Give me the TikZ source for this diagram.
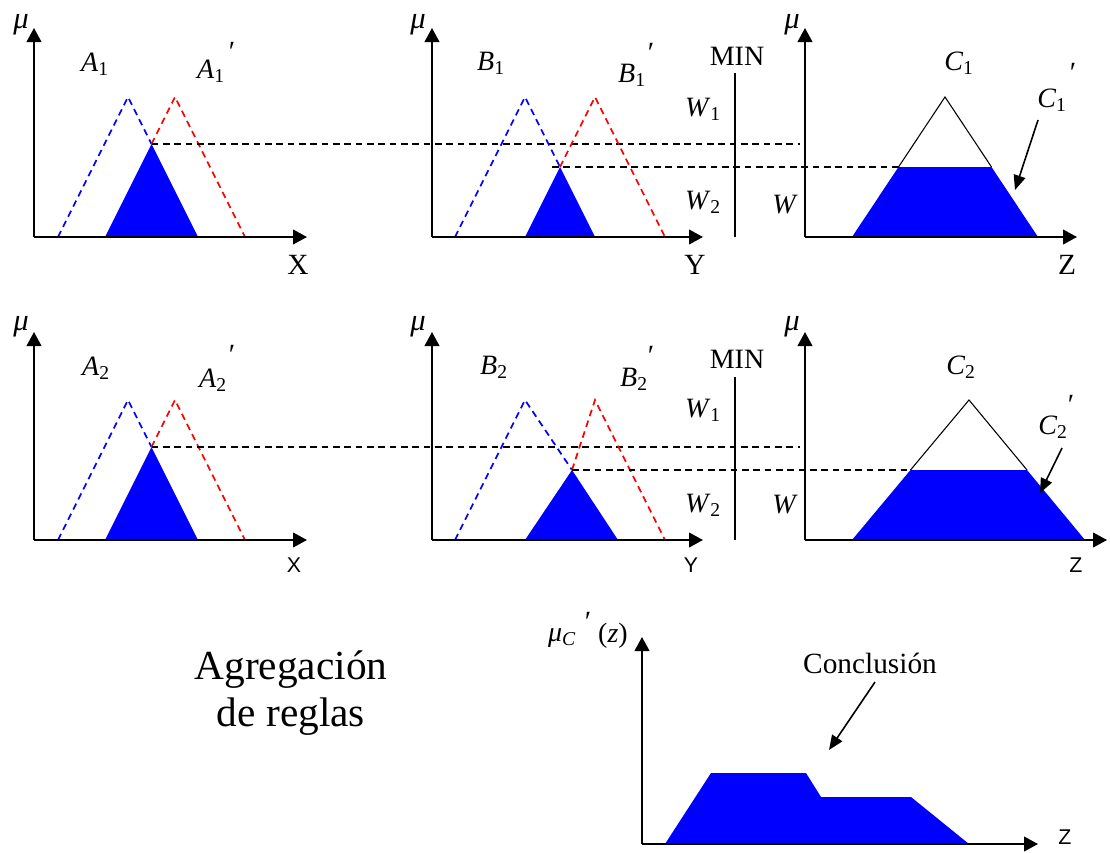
\documentclass[tikz,border=0pt]{standalone}
\usepackage{fontspec}
\setmainfont{Liberation Serif}
\setsansfont{Liberation Sans}
\usetikzlibrary{arrows.meta}
\newcommand\isub[2]{\textit{#1}\textsubscript{#2}}
\begin{document}
\begin{tikzpicture}[x=0.75pt,y=-0.75pt,
  axis/.style={line width=1.5pt,-{Triangle[length=10.5pt,width=11pt]}},
  dsh/.style={line width=1.3pt,dash pattern=on 5pt off 3.5pt},
  bdsh/.style={dsh,blue},
  rdsh/.style={dsh,red},
  memb/.style={fill=blue,draw=none},
  outl/.style={line width=0.8pt,black},
  minline/.style={line width=1.5pt},
  callout/.style={line width=1.2pt,-{Triangle[length=11pt,width=9pt]}},
  lbl/.style={inner sep=0pt,font=\fontsize{21}{23}\selectfont},
  mulbl/.style={inner sep=0pt,font=\fontsize{23}{24}\selectfont\itshape},
  prm/.style={inner sep=0pt,font=\fontsize{22}{24}\selectfont},
  axlbl/.style={inner sep=0pt,font=\fontsize{22}{24}\selectfont},
  axlbls/.style={inner sep=0pt,font=\fontsize{16}{18}\selectfont\sffamily},
  minlbl/.style={inner sep=0pt,font=\fontsize{21}{22}\selectfont},
]
\useasboundingbox (0,0) rectangle (1110,853);

% ---------------- Row 1 ----------------
% left panel
\coordinate (o1) at (34,237);
\fill[memb] (105,237) -- (151.5,144) -- (198,237) -- cycle;
\draw[bdsh] (58,237) -- (128,97) -- (151.5,144);
\draw[rdsh] (151.5,144) -- (175,97) -- (245,237);
\draw[axis] (o1) -- (34,28);
\draw[axis] (o1) -- (307,237);
\coordinate (p1a) at (151.5,144);
\coordinate (p1b) at (800,144);
\draw[dsh] (p1a) -- (p1b);
\node[mulbl] (mu1) at (21,25) {μ};
\node[lbl] (a1) at (95,64) {\isub{A}{1}};
\node[lbl] (a1p) at (211,71) {\isub{A}{1}};
\node[prm] (a1pp) at (232,52) {′};
\node[axlbl] (x1) at (298,265) {X};

% middle panel
\coordinate (o2) at (432,237);
\fill[memb] (525,237) -- (560,167) -- (595,237) -- cycle;
\draw[bdsh] (455,237) -- (525,97) -- (560,167);
\draw[rdsh] (560,167) -- (595,97) -- (665,237);
\draw[axis] (o2) -- (432,28);
\draw[axis] (o2) -- (703,237);
\node[mulbl] (mu2) at (418,25) {μ};
\node[lbl] (b1) at (491,63) {\isub{B}{1}};
\node[lbl] (b1p) at (632,75) {\isub{B}{1}};
\node[prm] (b1pp) at (651,53) {′};
\node[axlbl] (y1) at (695,265) {Y};
\node[minlbl] (min1) at (737,56) {MIN};
\draw[minline] (735,73) -- (735,237);
\node[lbl] (w11) at (703,109) {\isub{W}{1}};
\node[lbl] (w21) at (703,202) {\isub{W}{2}};

% right panel
\coordinate (o3) at (805,237);
\fill[memb] (852,237) -- (898.5,167) -- (991.5,167) -- (1038,237) -- cycle;
\draw[outl] (898.5,167) -- (945,97) -- (991.5,167);
\draw[axis] (o3) -- (805,28);
\draw[axis] (o3) -- (1077,237);
\coordinate (q1a) at (552,167);
\coordinate (q1b) at (898.5,167);
\draw[dsh] (q1a) -- (q1b);
\node[mulbl] (mu3) at (792,25) {μ};
\node[lbl] (w1) at (785,205) {\textit{W}};
\node[lbl] (c1) at (959,63) {\isub{C}{1}};
\node[lbl] (c1p) at (1052,100) {\isub{C}{1}};
\node[prm] (c1pp) at (1073,73) {′};
\coordinate (c1t) at (1015,190);
\draw[callout] (1038,120) -- (c1t);
\node[axlbl] (z1) at (1067,265) {Z};

% ---------------- Row 2 ----------------
\coordinate (o4) at (34,540);
\fill[memb] (105,540) -- (151.5,447) -- (198,540) -- cycle;
\draw[bdsh] (58,540) -- (128,400) -- (151.5,447);
\draw[rdsh] (151.5,447) -- (175,400) -- (245,540);
\draw[axis] (o4) -- (34,332);
\draw[axis] (o4) -- (307,540);
\coordinate (p2a) at (151.5,447);
\coordinate (p2b) at (800,447);
\draw[dsh] (p2a) -- (p2b);
\node[mulbl] (mu4) at (21,327) {μ};
\node[lbl] (a2) at (96,368) {\isub{A}{2}};
\node[lbl] (a2p) at (213,380) {\isub{A}{2}};
\node[prm] (a2pp) at (232,355) {′};
\node[axlbls] (x2) at (294,565) {X};

\coordinate (o5) at (432,540);
\fill[memb] (525,540) -- (572,470) -- (618,540) -- cycle;
\draw[bdsh] (455,540) -- (525,400) -- (572,470);
\draw[rdsh] (572,470) -- (595,400) -- (665,540);
\draw[axis] (o5) -- (432,332);
\draw[axis] (o5) -- (703,540);
\node[mulbl] (mu5) at (418,327) {μ};
\node[lbl] (b2) at (494,367) {\isub{B}{2}};
\node[lbl] (b2p) at (634,379) {\isub{B}{2}};
\node[prm] (b2pp) at (651,356) {′};
\node[axlbls] (y2) at (691,565) {Y};
\node[minlbl] (min2) at (737,359) {MIN};
\draw[minline] (735,377) -- (735,540);
\node[lbl] (w12) at (703,410) {\isub{W}{1}};
\node[lbl] (w22) at (703,505) {\isub{W}{2}};

\coordinate (o6) at (805,540);
\fill[memb] (852,540) -- (910.5,470) -- (1027,470) -- (1085,540) -- cycle;
\draw[outl] (910.5,470) -- (969,400) -- (1027,470);
\draw[axis] (o6) -- (805,332);
\draw[axis] (o6) -- (1107,540);
\coordinate (q2a) at (572,470);
\coordinate (q2b) at (910.5,470);
\draw[dsh] (q2a) -- (q2b);
\node[mulbl] (mu6) at (792,327) {μ};
\node[lbl] (w2) at (785,505) {\textit{W}};
\node[lbl] (c2) at (961,367) {\isub{C}{2}};
\node[lbl] (c2p) at (1053,427) {\isub{C}{2}};
\node[prm] (c2pp) at (1071,405) {′};
\coordinate (c2t) at (1040,493);
\draw[callout] (1062,448) -- (c2t);
\node[axlbls] (z2) at (1076,565) {Z};

% ---------------- Bottom ----------------
\node[inner sep=0pt,align=center,font=\fontsize{31}{35}\selectfont] (agg) at (291,693) {Agregación\\de reglas};

\coordinate (o7) at (642,844);
\fill[memb] (665,844) -- (711,773) -- (806,773) -- (821,797) -- (911,797) -- (969,844) -- cycle;
\draw[axis] (o7) -- (642,637);
\draw[axis] (o7) -- (1038,844);
\node[lbl] (muc) at (562,638) {\textit{μ}\textsubscript{\textit{C}}};
\node[prm] (mucp) at (588,622) {′};
\node[lbl] (muz) at (613,636) {(\textit{z})};
\node[axlbls] (z3) at (1065,837) {Z};
\node[inner sep=0pt,font=\fontsize{22}{24}\selectfont] (concl) at (870,663) {Conclusión};
\coordinate (cct) at (829,750);
\draw[callout] (875,682) -- (cct);
\end{tikzpicture}
\end{document}
